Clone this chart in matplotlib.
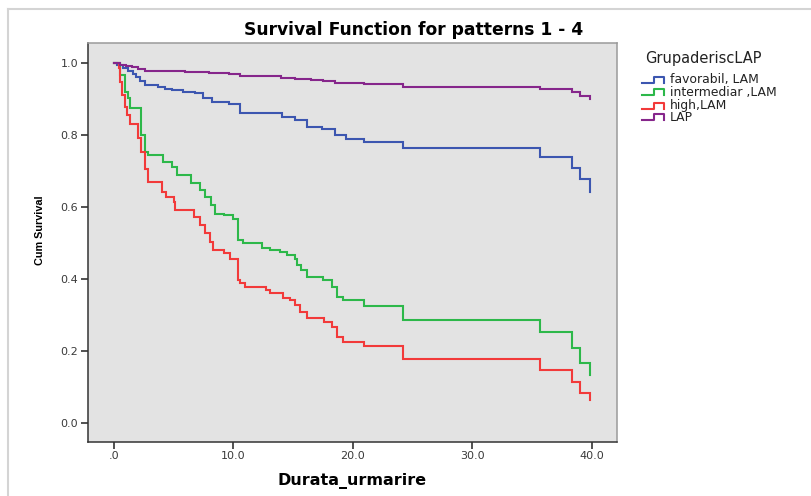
import matplotlib
matplotlib.use("Agg")
import matplotlib.pyplot as plt
from matplotlib.lines import Line2D
from matplotlib import font_manager

# ---------------- data ----------------
fav_t = [0, 0.3, 0.8, 1.2, 1.6, 1.9, 2.2, 2.6, 3.7, 4.3, 4.9, 5.8, 6.8, 7.5,
         8.2, 9.6, 10.6, 12.4, 14.1, 15.2, 16.2, 17.4, 18.5, 19.4, 20.9,
         24.2, 35.7, 38.3, 39.0, 39.86]
fav_s = [1.0, 0.995, 0.986, 0.978, 0.970, 0.963, 0.952, 0.94, 0.935, 0.930,
         0.926, 0.921, 0.917, 0.905, 0.893, 0.887, 0.863, 0.861, 0.850, 0.842,
         0.824, 0.819, 0.801, 0.790, 0.782, 0.764, 0.741, 0.710, 0.678, 0.643]

int_t = [0, 0.5, 0.95, 1.2, 1.36, 2.3, 2.6, 2.9, 4.15, 4.85, 5.3, 6.5, 7.2,
         7.6, 8.1, 8.5, 9.2, 10.0, 10.4, 10.85, 12.4, 13.1, 13.9, 14.5, 15.2,
         15.3, 15.7, 16.15, 17.5, 18.25, 18.7, 19.2, 20.9, 24.2, 35.7, 38.3,
         39.0, 39.86]
int_s = [1.0, 0.968, 0.921, 0.903, 0.875, 0.80, 0.754, 0.747, 0.727, 0.713,
         0.69, 0.667, 0.648, 0.63, 0.606, 0.583, 0.579, 0.569, 0.509, 0.50,
         0.486, 0.481, 0.477, 0.468, 0.458, 0.44, 0.426, 0.407, 0.398, 0.38,
         0.352, 0.343, 0.326, 0.287, 0.253, 0.21, 0.168, 0.134]

high_t = [0, 0.4, 0.5, 0.67, 0.95, 1.1, 1.36, 2.06, 2.3, 2.6, 2.9, 4.0, 4.4,
          5.0, 5.1, 6.7, 7.2, 7.6, 8.05, 8.3, 9.2, 9.7, 10.4, 10.6, 11.0,
          12.7, 13.1, 14.2, 14.75, 15.2, 15.6, 16.15, 17.6, 18.25, 18.7,
          19.2, 20.9, 24.2, 35.7, 38.3, 39.0, 39.86]
high_s = [1.0, 0.986, 0.949, 0.912, 0.879, 0.856, 0.833, 0.792, 0.754, 0.708,
          0.671, 0.643, 0.63, 0.616, 0.592, 0.572, 0.551, 0.528, 0.504, 0.481,
          0.474, 0.458, 0.398, 0.389, 0.379, 0.37, 0.361, 0.347, 0.343, 0.329,
          0.31, 0.292, 0.282, 0.268, 0.24, 0.227, 0.215, 0.18, 0.148, 0.114,
          0.085, 0.065]

lap_t = [0, 0.5, 1.0, 1.5, 2.0, 2.6, 4.0, 6.0, 8.0, 9.6, 10.6, 12.0, 14.0,
         15.2, 16.5, 17.5, 18.5, 20.9, 24.2, 35.7, 38.3, 39.0, 39.86]
lap_s = [1.0, 0.997, 0.993, 0.990, 0.985, 0.98, 0.978, 0.976, 0.973, 0.971,
         0.966, 0.964, 0.960, 0.958, 0.955, 0.951, 0.946, 0.943, 0.935, 0.928,
         0.921, 0.909, 0.90]

labels = ["favorabil, LAM", "intermediar ,LAM", "high,LAM", "LAP"]
colors = ["#3c56b0", "#2db84a", "#f23a3a", "#86268b"]
legend_title = "GrupaderiscLAP"
title = "Survival Function for patterns 1 - 4"
xlabel = "Durata_urmarire"
ylabel = "Cum Survival"
xticks = [0, 10, 20, 30, 40]
xticklabels = [".0", "10.0", "20.0", "30.0", "40.0"]
yticks = [0.0, 0.2, 0.4, 0.6, 0.8, 1.0]
yticklabels = ["0.0", "0.2", "0.4", "0.6", "0.8", "1.0"]

series = [(fav_t, fav_s), (int_t, int_s), (high_t, high_s), (lap_t, lap_s)]

# ---------------- fonts ----------------
avail = {f.name for f in font_manager.fontManager.ttflist}
wide = ['DejaVu Sans']
if 'Liberation Sans Narrow' in avail:
    narrow, ylab_size = ['Liberation Sans Narrow', 'DejaVu Sans'], 9.3
else:
    narrow, ylab_size = ['Liberation Sans', 'DejaVu Sans'], 7.8
plt.rcParams['font.family'] = wide

# ---------------- figure ----------------
W, H = 811, 496
fig = plt.figure(figsize=(W / 100, H / 100), dpi=100)
fig.patch.set_facecolor("white")

ax = fig.add_axes([87.7 / W, 1 - 441.7 / H, (617 - 87.7) / W, (441.7 - 43.3) / H])
ax.set_facecolor("#e3e3e3")

for (t, s), c in zip(series, colors):
    ax.step(t, s, where="post", color=c, lw=1.5, solid_joinstyle="miter")

ax.set_xlim(-2.18, 42.1)
ax.set_ylim(-0.051, 1.056)
ax.set_xticks(xticks)
ax.set_xticklabels(xticklabels)
ax.set_yticks(yticks)
ax.set_yticklabels(yticklabels)
ax.tick_params(axis="both", direction="out", length=5, width=1.2,
               color="#333333", labelsize=8, labelcolor="#3a3a3a", pad=2)

for side in ["left", "bottom"]:
    ax.spines[side].set_color("#333333")
    ax.spines[side].set_linewidth(1.1)
for side in ["top", "right"]:
    ax.spines[side].set_color("#9a9a9a")
    ax.spines[side].set_linewidth(1.1)

ax.set_xlabel(xlabel, fontsize=11.5, fontweight="bold", labelpad=8)
fig.text(40 / W, 1 - 230 / H, ylabel, rotation=90, ha="center", va="center",
         fontsize=ylab_size, fontweight="bold", family=narrow)

fig.text(414 / W, 1 - 30 / H, title, ha="center", va="center",
         fontsize=12.3, fontweight="bold")

# outer frame lines (light gray)
fig.add_artist(Line2D([8 / W, 8 / W], [0, 1 - 9 / H], transform=fig.transFigure,
                      color="#d4d4d4", lw=1.5))
fig.add_artist(Line2D([8 / W, 1], [1 - 9 / H, 1 - 9 / H], transform=fig.transFigure,
                      color="#d4d4d4", lw=1.5))

# legend drawn manually (step-shaped handles)
fig.text(645 / W, 1 - 58.3 / H, legend_title, ha="left", va="center",
         fontsize=10.5, color="#222222")
ys = [80, 92.3, 105.7, 117.3]
for lab, c, y in zip(labels, colors, ys):
    x0 = 642
    xs = [x0, x0 + 12, x0 + 12, x0 + 22, x0 + 22]
    yy = [y + 3, y + 3, y - 3, y - 3, y + 3]
    fig.add_artist(Line2D([v / W for v in xs], [1 - v / H for v in yy],
                          transform=fig.transFigure, color=c, lw=1.5))
    fig.text(670 / W, 1 - y / H, lab, ha="left", va="center", fontsize=8.9,
             color="#222222")

fig.savefig("out.png", dpi=100)
